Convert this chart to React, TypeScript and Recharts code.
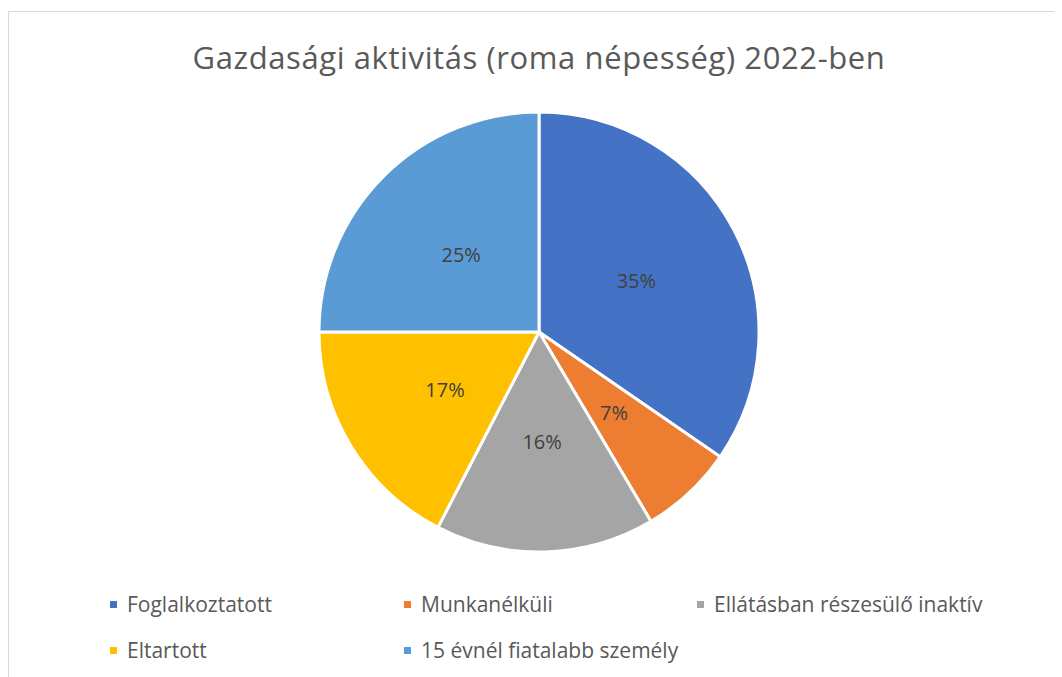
import { PieChart, Pie, Cell, Legend } from "recharts";

const categories = [
  "Foglalkoztatott",
  "Munkanélküli",
  "Ellátásban részesülő inaktív",
  "Eltartott",
  "15 évnél fiatalabb személy",
];
const shares = [34.6, 6.9, 16.1, 17.4, 25.0];
const colors = ["#4472C4", "#ED7D31", "#A5A5A5", "#FFC000", "#5B9BD5"];

const data = categories.map((name, i) => ({ name, value: shares[i] }));

const FONT = "'Open Sans', sans-serif";
const RAD = Math.PI / 180;

const renderLabel = (props: any) => {
  const { cx, cy, midAngle, outerRadius, percent } = props;
  const r = outerRadius * 0.5;
  const x = cx + r * Math.cos(-midAngle * RAD);
  const y = cy + r * Math.sin(-midAngle * RAD);
  return (
    <text
      x={x}
      y={y}
      fill="#404040"
      fontSize={20}
      fontFamily={FONT}
      textAnchor="middle"
      dominantBaseline="central"
    >
      {`${Math.round(percent * 100)}%`}
    </text>
  );
};

// legend laid out in two rows like the original
const legendSlots = [
  { left: 101, top: 578 },
  { left: 395, top: 578 },
  { left: 688, top: 578 },
  { left: 101, top: 624 },
  { left: 395, top: 624 },
];

const renderLegend = () => (
  <div style={{ position: "relative", width: 1054, height: 668 }}>
    {categories.map((name, i) => (
      <div
        key={name}
        style={{
          position: "absolute",
          left: legendSlots[i].left,
          top: legendSlots[i].top,
          display: "flex",
          alignItems: "center",
          fontFamily: FONT,
          fontSize: 21,
          color: "#595959",
          whiteSpace: "nowrap",
        }}
      >
        <span
          style={{
            display: "inline-block",
            width: 7,
            height: 7,
            background: colors[i],
            marginRight: 10,
          }}
        />
        {name}
      </div>
    ))}
  </div>
);

export default function App() {
  return (
    <div
      style={{
        position: "relative",
        marginTop: 3,
        width: 1060,
        height: 670,
        borderTop: "1px solid #d9d9d9",
        borderLeft: "1px solid #d9d9d9",
        background: "#fff",
        boxSizing: "border-box",
        overflow: "hidden",
      }}
    >
      <div
        style={{
          position: "absolute",
          left: 0,
          width: 1060,
          top: 24,
          textAlign: "center",
          fontFamily: FONT,
          fontSize: 31,
          letterSpacing: 0.6,
          color: "#595959",
          whiteSpace: "nowrap",
        }}
      >
        Gazdasági aktivitás (roma népesség) 2022-ben
      </div>
      <PieChart width={1054} height={668} margin={{ top: 0, right: 0, bottom: 0, left: 0 }}>
        <Pie
          data={data}
          dataKey="value"
          nameKey="name"
          cx={530}
          cy={320}
          outerRadius={220}
          startAngle={90}
          endAngle={-270}
          stroke="#ffffff"
          strokeWidth={3}
          label={renderLabel}
          labelLine={false}
          isAnimationActive={false}
        >
          {data.map((d, i) => (
            <Cell key={d.name} fill={colors[i]} />
          ))}
        </Pie>
        <Legend
          content={renderLegend}
          wrapperStyle={{ position: "absolute", left: 0, top: 0, width: 1054, height: 668, pointerEvents: "none" }}
        />
      </PieChart>
    </div>
  );
}
